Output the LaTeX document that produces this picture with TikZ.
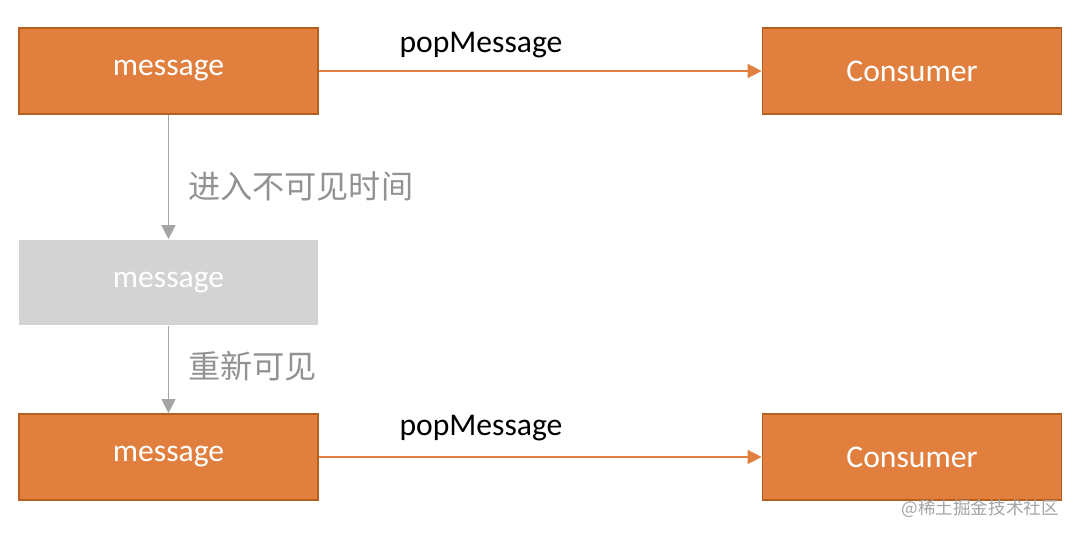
\documentclass[tikz,border=0pt]{standalone}
\usepackage{fontspec}
\setmainfont{Carlito}
\newfontfamily\cjk{Noto Sans CJK SC}
\usetikzlibrary{arrows.meta}
\definecolor{org}{HTML}{E07F3E}
\definecolor{orgd}{HTML}{B5601F}
\definecolor{gbox}{HTML}{D3D3D3}
\definecolor{gtxt}{HTML}{7F7F7F}
\tikzset{
 obox/.style={draw=orgd,line width=1pt,fill=org,minimum width=5.98cm,minimum height=1.72cm,text=white,font=\fontsize{18}{21}\selectfont},
 gbx/.style={fill=gbox,minimum width=5.98cm,minimum height=1.72cm,text=white,font=\fontsize{18}{21}\selectfont},
 oarr/.style={draw=org,line width=0.8pt,-{Triangle[length=8pt,width=8pt]}},
 garr/.style={draw=gtxt!70,line width=0.8pt,-{Triangle[length=8pt,width=8pt]}},
 lbl/.style={font=\fontsize{18}{21}\selectfont},
 clbl/.style={font=\cjk\fontsize{18.3}{21}\selectfont,text=gtxt!85}
}
\begin{document}
\begin{tikzpicture}[x=0.02cm,y=-0.02cm]
\useasboundingbox[fill=white] (0,0) rectangle (1080,536);
\node[obox] (m1) at (168.5,71) {message};
\node[obox] (c1) at (912,71) {Consumer};
\node[gbx] (g) at (168.5,282.5) {message};
\node[obox] (m2) at (168.5,457) {message};
\node[obox] (c2) at (912,457) {Consumer};
\draw[oarr] (m1) -- (c1);
\draw[oarr] (m2) -- (c2);
\draw[garr] (m1) -- (g);
\draw[garr] (g) -- (m2);
\node[lbl] (p1) at (481,45) {popMessage};
\node[lbl] (p2) at (481,428) {popMessage};
\node[clbl,anchor=west] (t1) at (182,186) {进入不可见时间};
\node[clbl,anchor=west] (t2) at (182,366) {重新可见};
\node[font=\cjk\fontsize{10}{12}\selectfont,text=gtxt!70,anchor=east] (w) at (1065,509) {@稀土掘金技术社区};
\end{tikzpicture}
\end{document}
